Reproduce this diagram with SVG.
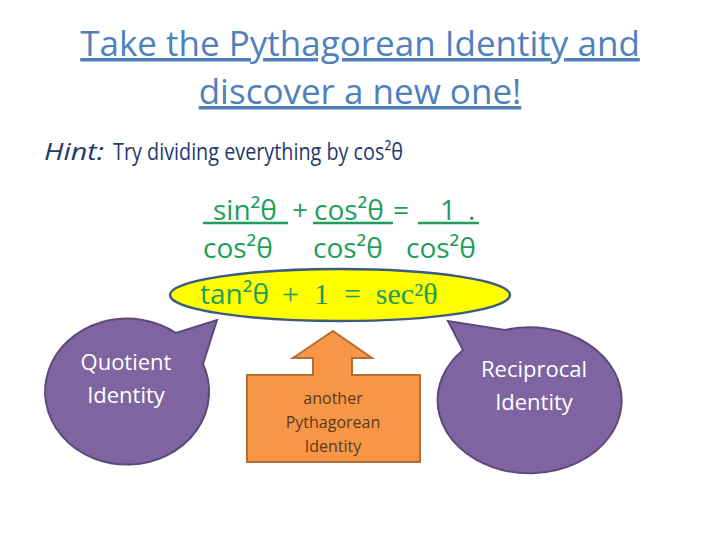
<svg xmlns="http://www.w3.org/2000/svg" width="720" height="540" viewBox="0 0 720 540">
<style>
.t{font-family:"Open Sans","DejaVu Sans",sans-serif;fill:#4f81bd;font-size:35px}
.g{font-family:"Open Sans","DejaVu Sans",sans-serif;fill:#1e9e5a;font-size:28px}
.gs{font-family:"Liberation Serif",serif;fill:#1e9e5a;font-size:30px}
.w{font-family:"Open Sans","DejaVu Sans",sans-serif;fill:#fff;font-size:22px;text-anchor:middle}
.bub{fill:#8064a2;stroke:#5c4a7a;stroke-width:2}
.u{stroke:#1e9e5a;stroke-width:2.5}
.h{font-family:"Open Sans","DejaVu Sans",sans-serif;font-size:24px;fill:#1f3a6e}
</style>
<rect width="720" height="540" fill="#fff"/>
<g id="title">
<text class="t" x="360" y="56" text-anchor="middle" text-decoration="underline">Take the Pythagorean Identity and</text>
<text class="t" x="360" y="104" text-anchor="middle" text-decoration="underline">discover a new one!</text>
</g>
<g id="hint">
<text class="h" x="44" y="160" font-style="italic" textLength="60" lengthAdjust="spacingAndGlyphs">Hint:</text>
<text class="h" x="113" y="160" textLength="290" lengthAdjust="spacingAndGlyphs">Try dividing everything by cos²θ</text>
</g>
<g id="eq">
<text class="g" x="213" y="220">sin²θ</text>
<line class="u" x1="203" y1="223" x2="288" y2="223"/>
<text class="g" x="292" y="220">+</text>
<text class="g" x="314" y="220">cos²θ</text>
<line class="u" x1="313" y1="223" x2="393" y2="223"/>
<text class="g" x="393" y="220">=</text>
<text class="g" x="440" y="220">1</text>
<text class="g" x="468" y="220">.</text>
<line class="u" x1="418" y1="223" x2="479" y2="223"/>
<text class="g" x="203" y="258">cos²θ</text>
<text class="g" x="313" y="258">cos²θ</text>
<text class="g" x="406" y="258">cos²θ</text>
</g>
<g id="result">
<ellipse cx="340" cy="295" rx="170" ry="26" fill="#ffff00" stroke="#3d5a80" stroke-width="2.5"/>
<text class="g" x="200" y="304">tan²θ</text>
<text class="gs" x="282" y="304" xml:space="preserve">+  1  =  sec²θ</text>
</g>
<g id="quotient">
<path class="bub" d="M176,333 L217,320 L203,364 A82,73 0 1 1 176,333 Z"/>
<text class="w" x="126" y="370">Quotient</text>
<text class="w" x="126" y="403">Identity</text>
</g>
<g id="reciprocal">
<path class="bub" d="M505,330 L448,321 L463,350 A92,73 0 1 0 505,330 Z"/>
<text class="w" x="534" y="377">Reciprocal</text>
<text class="w" x="534" y="410">Identity</text>
</g>
<g id="another">
<path d="M333,331 L372,358 L352,358 L352,375 L420,375 L420,462 L247,462 L247,375 L313,375 L313,358 L293,358 Z" fill="#f79646" stroke="#b66d31" stroke-width="2"/>
<text x="333" y="404" font-family="Open Sans,DejaVu Sans,sans-serif" font-size="16" fill="#5a3a1e" text-anchor="middle">another</text>
<text x="333" y="428" font-family="Open Sans,DejaVu Sans,sans-serif" font-size="16" fill="#5a3a1e" text-anchor="middle">Pythagorean</text>
<text x="333" y="452" font-family="Open Sans,DejaVu Sans,sans-serif" font-size="16" fill="#5a3a1e" text-anchor="middle">Identity</text>
</g>
<g id="connectors"></g>
</svg>
